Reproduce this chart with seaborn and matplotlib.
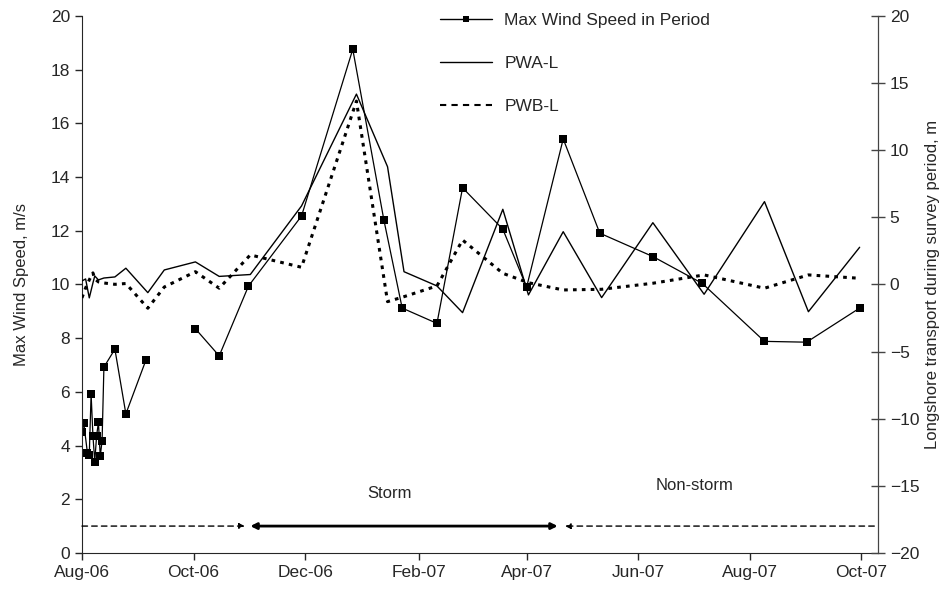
import pandas as pd
import matplotlib.pyplot as plt
import matplotlib.dates as mdates
from matplotlib.lines import Line2D
import seaborn as sns

# Max wind speed in each period between surveys (left axis).
# None = no wind record for that period (breaks the line).
wind_dates = ['2006-08-01', '2006-08-02', '2006-08-04', '2006-08-05', '2006-08-06',
              '2006-08-07', '2006-08-08', '2006-08-09', '2006-08-10', '2006-08-11',
              '2006-08-12', '2006-08-13', '2006-08-19', '2006-08-25', '2006-09-05',
              '2006-09-15', '2006-10-02', '2006-10-15', '2006-10-31', '2006-11-29',
              '2006-12-27', '2007-01-13', '2007-01-23', '2007-02-11', '2007-02-25',
              '2007-03-19', '2007-04-01', '2007-04-21', '2007-05-11', '2007-06-09',
              '2007-07-06', '2007-08-09', '2007-09-01', '2007-09-30']
wind_speed = [4.52, 4.83, 3.72, 3.65, 5.92, 4.36, 3.40, 4.36, 4.87, 3.60,
              4.18, 6.92, 7.59, 5.18, 7.19, None, 8.35, 7.34, 9.94, 12.55,
              18.76, 12.40, 9.12, 8.55, 13.60, 12.06, 9.90, 15.42, 11.91, 11.04,
              10.04, 7.88, 7.85, 9.12]

# Longshore transport during each survey period, m (right axis)
survey_dates = ['2006-08-01', '2006-08-03', '2006-08-05', '2006-08-07', '2006-08-08',
                '2006-08-10', '2006-08-13', '2006-08-19', '2006-08-25', '2006-09-06',
                '2006-09-15', '2006-10-02', '2006-10-15', '2006-11-01', '2006-11-29',
                '2006-12-29', '2007-01-15', '2007-01-24', '2007-02-11', '2007-02-25',
                '2007-03-19', '2007-04-02', '2007-04-21', '2007-05-12', '2007-06-09',
                '2007-07-07', '2007-08-09', '2007-09-02', '2007-09-30']
pwa_l = [0.26, 0.41, -1.00, 0.11, 0.63, 0.34, 0.48, 0.56, 1.21, -0.61,
         1.08, 1.68, 0.60, 0.74, 5.85, 14.18, 8.77, 0.95, -0.11, -2.10,
         5.60, -0.78, 3.93, -0.98, 4.60, -0.73, 6.17, -2.03, 2.77]
pwb_l = [-1.00, -0.26, 0.34, 0.86, 0.41, 0.19, 0.11, 0.01, 0.07, -1.77,
         -0.19, 0.95, -0.28, 2.20, 1.28, 13.66, -1.28, -0.91, -0.11, 3.31,
         0.83, 0.13, -0.41, -0.36, 0.09, 0.71, -0.28, 0.71, 0.46]

# storm / non-storm periods marked along the bottom
storm_period = ('2006-11-01', '2007-04-18')
nonstorm_before = ('2006-08-01', '2006-10-29')
nonstorm_after = ('2007-04-22', '2007-10-08')

sns.set_style('ticks')
plt.rcParams['font.family'] = ['Liberation Sans', 'DejaVu Sans']
plt.rcParams['font.size'] = 12

wind_df = pd.DataFrame({'date': pd.to_datetime(wind_dates),
                        'wind': pd.to_numeric(pd.Series(wind_speed), errors='coerce')})
wind_df['seg'] = wind_df['wind'].isna().cumsum()
wind_df = wind_df.dropna()

survey_df = pd.DataFrame({'date': pd.to_datetime(survey_dates), 'pwa': pwa_l, 'pwb': pwb_l})

fig, ax = plt.subplots(figsize=(9.42, 5.92), dpi=100)
fig.subplots_adjust(left=0.087, right=0.932, bottom=0.066, top=0.973)

sns.lineplot(data=wind_df, x='date', y='wind', units='seg', estimator=None,
             color='black', lw=0.9, marker='s', markersize=5.5, markeredgewidth=0,
             legend=False, ax=ax)

ax2 = ax.twinx()
sns.lineplot(data=survey_df, x='date', y='pwa', estimator=None, color='black',
             lw=1.0, ax=ax2)
sns.lineplot(data=survey_df, x='date', y='pwb', estimator=None, color='black',
             lw=2.2, ls=(0, (1.2, 1.7)), ax=ax2)

# storm markers
y_bar = 1.0
s0, s1 = pd.to_datetime(storm_period)
ax.annotate('', xy=(s1, y_bar), xytext=(s0, y_bar),
            arrowprops=dict(arrowstyle='<|-|>', lw=2, color='black',
                            shrinkA=0, shrinkB=0, mutation_scale=9))
b0, b1 = pd.to_datetime(nonstorm_before)
ax.annotate('', xy=(b1, y_bar), xytext=(b0, y_bar),
            arrowprops=dict(arrowstyle='-|>', lw=1, ls=(0, (4, 3)), color='black',
                            shrinkA=0, shrinkB=0, mutation_scale=8))
a0, a1 = pd.to_datetime(nonstorm_after)
ax.annotate('', xy=(a0, y_bar), xytext=(a1, y_bar),
            arrowprops=dict(arrowstyle='-|>', lw=1, ls=(0, (4, 3)), color='black',
                            shrinkA=0, shrinkB=0, mutation_scale=8))
ax.text(pd.Timestamp('2007-01-16'), 2.2, 'Storm', ha='center', va='center', fontsize=12)
ax.text(pd.Timestamp('2007-07-02'), 2.5, 'Non-storm', ha='center', va='center', fontsize=12)

# axes
ax.set_xlim(pd.Timestamp('2006-08-01'), pd.Timestamp('2007-10-10'))
ax.set_ylim(0, 20)
ax.set_yticks(range(0, 21, 2))
ax2.set_ylim(-20, 20)
ax2.set_yticks(range(-20, 21, 5))
ax.xaxis.set_major_locator(mdates.MonthLocator(bymonth=[2, 4, 6, 8, 10, 12]))
ax.xaxis.set_major_formatter(mdates.DateFormatter('%b-%y'))
ax.set_xlabel('')
ax.set_ylabel('Max Wind Speed, m/s', fontsize=12, labelpad=16)
ax2.set_ylabel('Longshore transport during survey period, m', fontsize=12, labelpad=4)
ax.tick_params(axis='both', direction='out', length=5, width=1, labelsize=12.5)
ax2.tick_params(axis='y', direction='inout', length=10, width=1, labelsize=12.5, color='#444444')

for a in (ax, ax2):
    a.spines['top'].set_visible(False)
ax2.spines['right'].set_color('#444444')
ax2.spines['left'].set_visible(False)
ax2.spines['bottom'].set_visible(False)

handles = [
    Line2D([], [], color='black', lw=1.0, marker='s', markersize=4.5, markeredgewidth=0),
    Line2D([], [], color='black', lw=1.0),
    Line2D([], [], color='black', lw=1.5, ls=(0, (3, 2.5))),
]
labels = ['Max Wind Speed in Period', 'PWA-L', 'PWB-L']
ax2.legend(handles, labels, loc='upper left', bbox_to_anchor=(440 / 942, 1 - 13 / 592),
           bbox_transform=fig.transFigure, frameon=False, fontsize=12.5,
           handlelength=3.0, handletextpad=0.7, labelspacing=1.6,
           borderpad=0, borderaxespad=0)

fig.savefig('out.png', dpi=100)
